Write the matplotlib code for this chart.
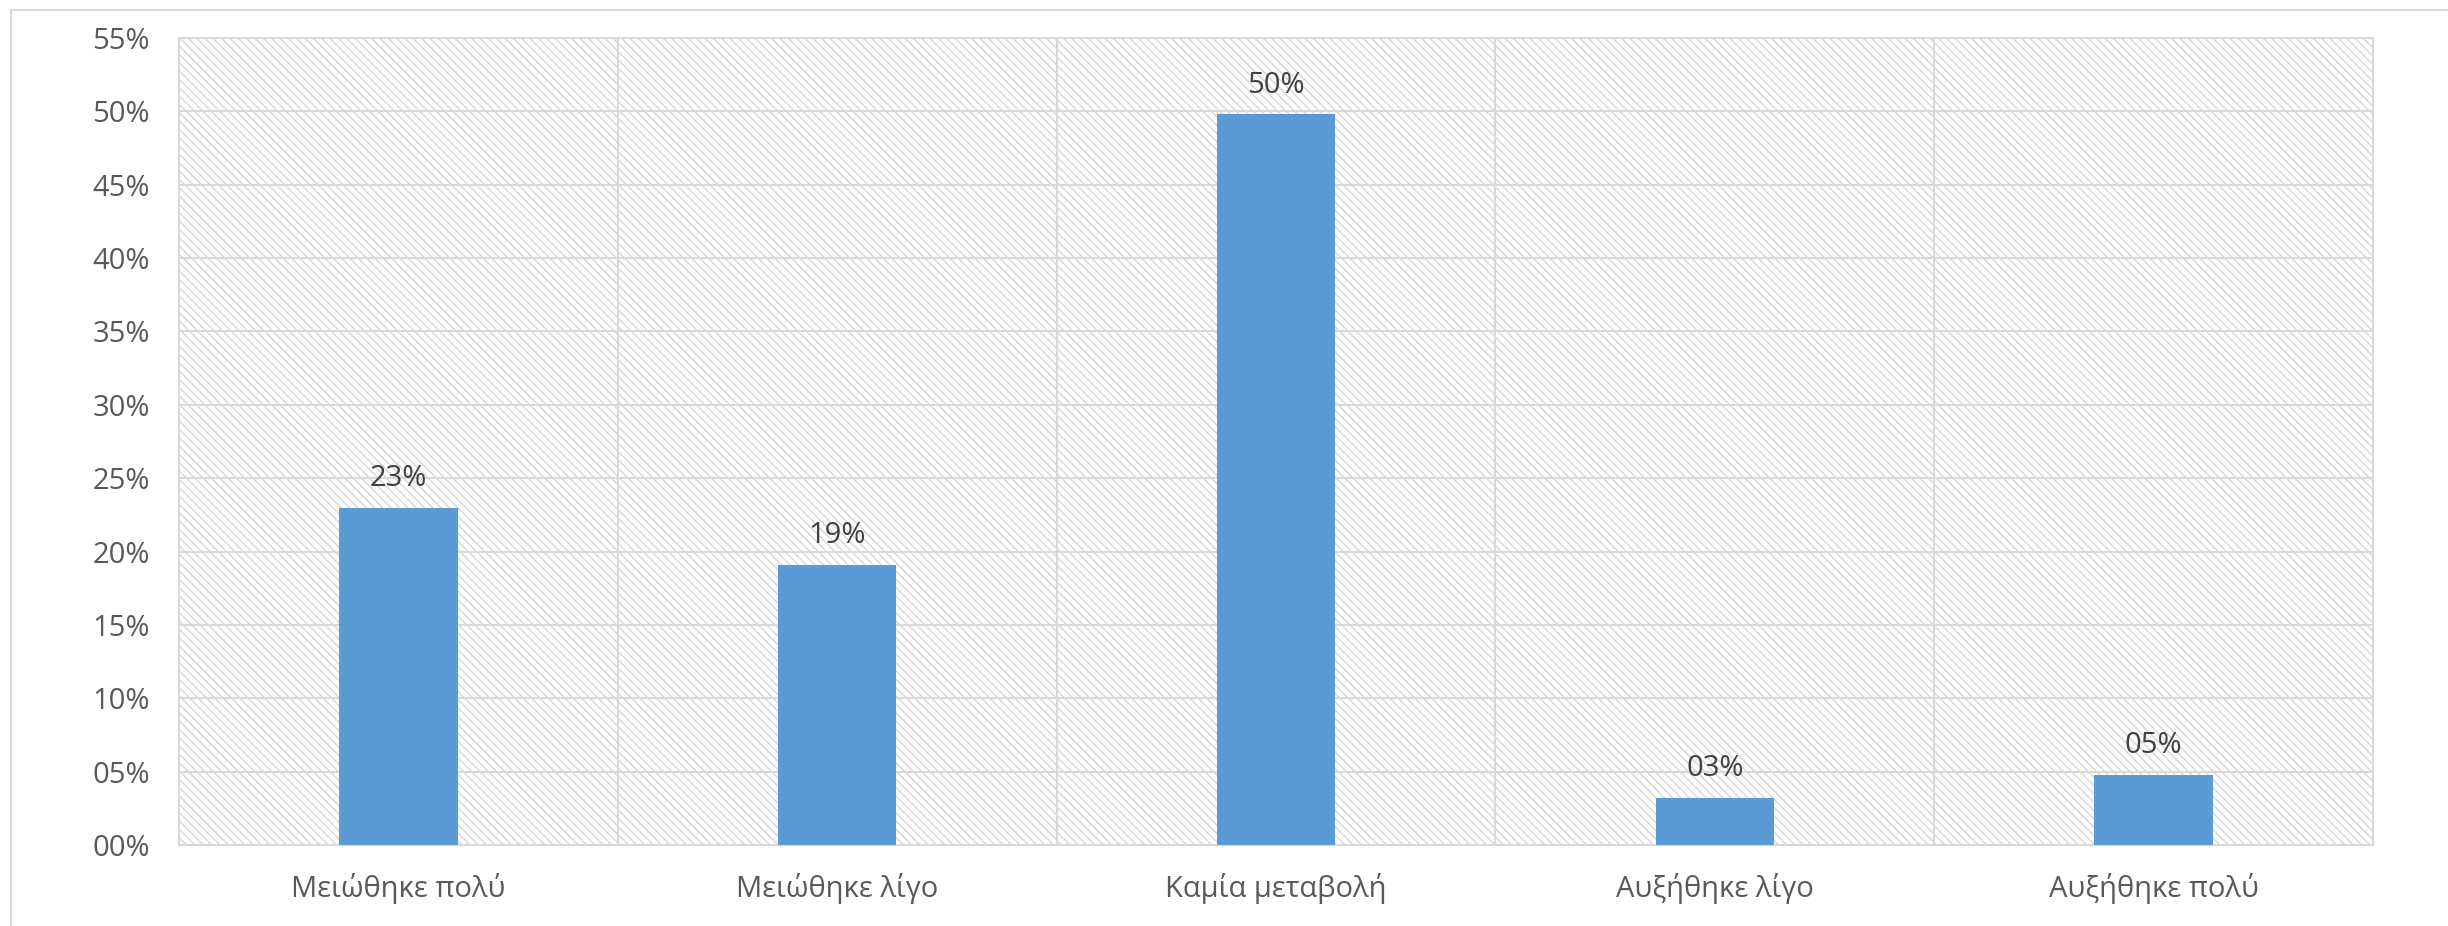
import matplotlib.pyplot as plt
from matplotlib.patches import Rectangle
from matplotlib.lines import Line2D

# categorías y porcentajes
categories = ['Μειώθηκε πολύ', 'Μειώθηκε λίγο', 'Καμία μεταβολή', 'Αυξήθηκε λίγο', 'Αυξήθηκε πολύ']
values = [22.97, 19.1, 49.8, 3.2, 4.8]
labels = ['23%', '19%', '50%', '03%', '05%']
yticks = [0, 5, 10, 15, 20, 25, 30, 35, 40, 45, 50, 55]

plt.rcParams['font.family'] = ['Open Sans', 'DejaVu Sans']
plt.rcParams['hatch.linewidth'] = 1.0
grid_c = '#d9d9d9'
text_c = '#595959'

W, H = 2448, 926
fig = plt.figure(figsize=(W / 100, H / 100), dpi=100)
ax = fig.add_axes([179 / W, 1 - 845 / H, (2373 - 179) / W, (845 - 38) / H])

# fondo rayado
ax.add_patch(Rectangle((0, 0), 1, 1, transform=ax.transAxes, facecolor='white',
                       edgecolor='#d6d6d6', hatch='\\\\\\\\', lw=0, zorder=0))

x = range(len(categories))
ax.bar(x, values, width=0.27, color='#5b9bd5', zorder=3)
for i, (v, t) in enumerate(zip(values, labels)):
    ax.text(i, v + 1.0, t, ha='center', va='bottom', fontsize=21, color='#404040', zorder=4)

ax.set_xlim(-0.5, len(categories) - 0.5)
ax.set_ylim(0, 55)
ax.set_yticks(yticks)
ax.set_yticklabels(['%02d%%' % t for t in yticks])
ax.set_xticks(list(x))
ax.set_xticklabels(categories)
ax.set_xticks([i + 0.5 for i in range(len(categories) - 1)], minor=True)
ax.tick_params(axis='both', which='both', length=0, labelsize=21, colors=text_c)
ax.tick_params(axis='y', pad=21)
ax.tick_params(axis='x', pad=20)

ax.grid(True, axis='y', color=grid_c, lw=1.5, zorder=1)
ax.grid(True, axis='x', which='minor', color=grid_c, lw=1.5, zorder=1)
ax.set_axisbelow(True)
for s in ax.spines.values():
    s.set_color(grid_c)
    s.set_linewidth(1.5)

# marco exterior (solo izquierda y arriba visibles)
fig.add_artist(Line2D([11 / W, 11 / W], [0, 1 - 10 / H], color=grid_c, lw=1.5, transform=fig.transFigure))
fig.add_artist(Line2D([11 / W, 1], [1 - 10 / H, 1 - 10 / H], color=grid_c, lw=1.5, transform=fig.transFigure))

fig.savefig('out.png', dpi=100)
